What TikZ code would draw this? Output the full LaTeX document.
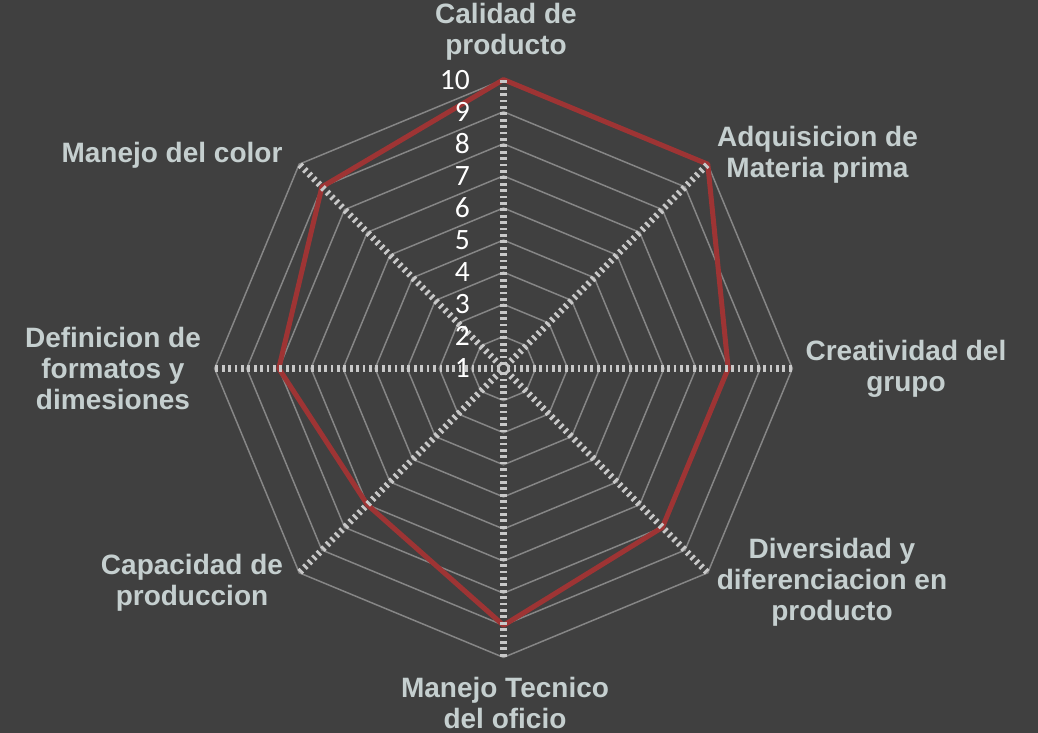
\documentclass[tikz,border=0pt]{standalone}
\usepackage{fontspec}
\setmainfont{Liberation Sans}
\newfontfamily\numfont{Carlito}
\definecolor{fundo}{RGB}{64,64,64}
\definecolor{grade}{RGB}{134,134,134}
\definecolor{eixo}{RGB}{200,200,200}
\definecolor{serie}{RGB}{158,52,52}
\definecolor{rotulo}{RGB}{197,207,207}
\begin{document}
\begin{tikzpicture}[x=1pt,y=1pt]
\tikzstyle{categoria}=[text=rotulo, font=\fontsize{28}{31}\selectfont\bfseries, align=center, inner sep=0]
\tikzstyle{valor}=[text=white, font=\numfont\fontsize{29.5}{29.5}\selectfont, anchor=east, inner sep=0]
\tikzstyle{anel}=[draw=grade, line width=1.5pt]
\tikzstyle{raio}=[draw=eixo, line width=6.5pt, dash pattern=on 2.7pt off 3.7pt, dash phase=2.7pt]
\tikzstyle{serie}=[draw=serie, line width=5pt, line join=round]
\fill[fundo](-503.5,-364.5) rectangle (534.5,368.5);
\useasboundingbox(-503.5,-364.5) rectangle (534.5,368.5);
% aneis
\foreach \v in {2,...,10}{
  \draw[anel](90:{(\v-1)*32.1}) \foreach \a in {45,0,...,-225}{ -- (\a:{(\v-1)*32.1})} -- cycle;
}
% serie
\coordinate (o) at (0,0);
\foreach \v [count=\i, evaluate=\i as \a using 135-45*\i] in {10,10,8,8,9,7,8,9}
  \coordinate (p\i) at (\a:{(\v-1)*32.1});
\draw[serie](p1)--(p2)--(p3)--(p4)--(p5)--(p6)--(p7)--(p8)--cycle;
% eixos
\foreach \a [count=\i] in {90,45,...,-225}
  \coordinate (c\i) at (\a:288.9);
\foreach \i in {1,...,8}
  \draw[raio](o)--(c\i);
% valores
\foreach \v in {1,...,10}
  \node[valor] (n\v) at (-33.5,{(\v-1)*32.1}){\v};
% categorias
\node[categoria] (calidad) at (2.5,336.5){Calidad de\\producto};
\node[categoria] (adquisicion) at (314,213.5){Adquisicion de\\Materia prima};
\node[categoria] (creatividad) at (402.5,-0.5){Creatividad del\\grupo};
\node[categoria] (diversidad) at (328.5,-213.5){Diversidad y\\diferenciacion en\\producto};
\node[categoria] (tecnico) at (1.5,-334.5){Manejo Tecnico\\del oficio};
\node[categoria] (capacidad) at (-311.5,-214.5){Capacidad de\\produccion};
\node[categoria] (definicion) at (-390.5,0.5){Definicion de\\formatos y\\dimesiones};
\node[categoria] (color) at (-331.5,213.5){Manejo del color};
\end{tikzpicture}
\end{document}
